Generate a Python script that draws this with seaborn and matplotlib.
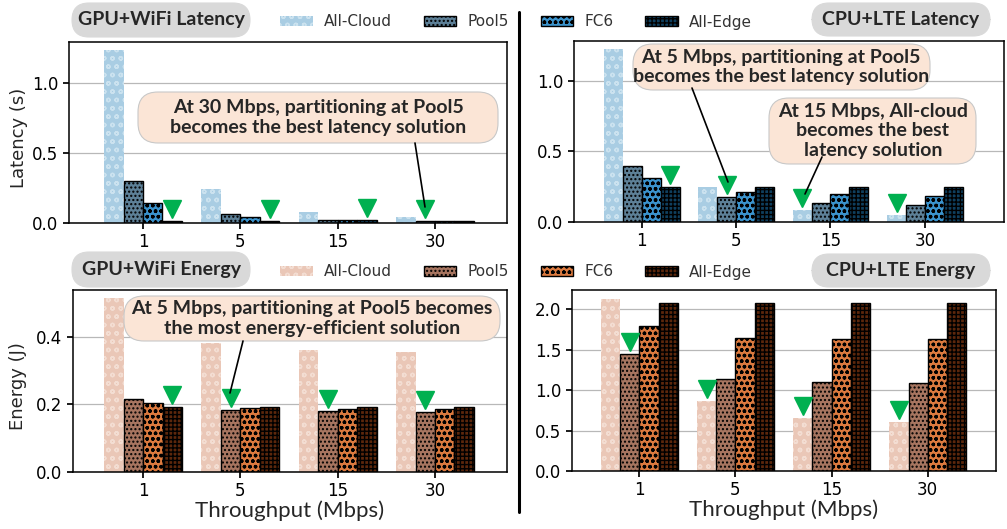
import numpy as np
import pandas as pd
import matplotlib
matplotlib.use('Agg')
import matplotlib.pyplot as plt
from matplotlib.patches import FancyBboxPatch
from matplotlib.lines import Line2D
from matplotlib.transforms import offset_copy
import seaborn as sns

throughputs = ['1', '5', '15', '30']
configs = ['All-Cloud', 'Pool5', 'FC6', 'All-Edge']

# latency (s), GPU + WiFi, values per throughput
gpu_lat_cloud = [1.235, 0.243, 0.076, 0.041]
gpu_lat_pool5 = [0.30, 0.064, 0.024, 0.015]
gpu_lat_fc6 = [0.145, 0.040, 0.022, 0.016]
gpu_lat_edge = [0.017, 0.016, 0.018, 0.017]

# latency (s), CPU + LTE
cpu_lat_cloud = [1.225, 0.25, 0.085, 0.05]
cpu_lat_pool5 = [0.40, 0.175, 0.133, 0.121]
cpu_lat_fc6 = [0.314, 0.215, 0.199, 0.187]
cpu_lat_edge = [0.25, 0.25, 0.25, 0.25]

# energy (J), GPU + WiFi
gpu_en_cloud = [0.515, 0.383, 0.36, 0.356]
gpu_en_pool5 = [0.215, 0.185, 0.18, 0.177]
gpu_en_fc6 = [0.205, 0.19, 0.188, 0.188]
gpu_en_edge = [0.193, 0.193, 0.193, 0.193]

# energy (J), CPU + LTE
cpu_en_cloud = [2.13, 0.868, 0.65, 0.61]
cpu_en_pool5 = [1.444, 1.136, 1.095, 1.083]
cpu_en_fc6 = [1.79, 1.646, 1.633, 1.633]
cpu_en_edge = [2.07, 2.07, 2.07, 2.07]

lat_colors = ['#a9cde3', '#5d8097', '#3b93cc', '#0f3f5e']
en_colors = ['#eac7b7', '#a77560', '#dc7a3f', '#5c270c']
cloud_hatch_color = {'lat': '#cbe2ef', 'en': '#f3ddd2'}
hatches = ['oo', '....', 'ooo', '++++']

W, H = 1007, 529
DPI = 100


def to_df(series):
    rows = []
    for cfg, vals in zip(configs, series):
        for t, v in zip(throughputs, vals):
            rows.append({'throughput': t, 'config': cfg, 'value': v})
    return pd.DataFrame(rows)


def px(x, y):
    # pixel (top-left origin) -> inches for fig.dpi_scale_trans
    return x / DPI, (H - y) / DPI


def draw_panel(fig, rect, series, colors, kind, ylim, yticks, xlim):
    ax = fig.add_axes(rect)
    df = to_df(series)
    sns.barplot(data=df, x='throughput', y='value', hue='config',
                order=throughputs, hue_order=configs, palette=colors,
                saturation=1, legend=False, ax=ax, zorder=2)
    for j, cont in enumerate(ax.containers):
        for bar in cont:
            bar.set_hatch(hatches[j])
            if j == 0:
                bar.set_edgecolor(cloud_hatch_color[kind])
                bar.set_linewidth(0)
            else:
                bar.set_edgecolor('black')
                bar.set_linewidth(1.0)

    # green marker above the best configuration of every throughput
    trans = offset_copy(ax.transData, fig=fig, x=0, y=12, units='dots')
    vals = np.array(series)
    for i in range(len(throughputs)):
        best = int(np.argmin(vals[:, i]))
        bar = ax.containers[best][i]
        ax.plot(bar.get_x() + bar.get_width() / 2, bar.get_height(), 'v',
                color='#00b050', ms=13.5, transform=trans, zorder=4, clip_on=False)

    ax.set_xlim(*xlim)
    ax.set_ylim(*ylim)
    ax.set_yticks(yticks)
    ax.set_xlabel('')
    ax.set_ylabel('')
    ax.yaxis.grid(True, color='#b8b8b8', lw=0.9)
    ax.set_axisbelow(True)
    ax.tick_params(labelsize=12, length=4, colors='black')
    for s in ax.spines.values():
        s.set_visible(True)
        s.set_color('black')
        s.set_linewidth(1.1)
    return ax


def pill(fig, x0, y0, x1, y1, r, face, edge):
    a, b = px(x0, y1)
    p = FancyBboxPatch((a, b), (x1 - x0) / DPI, (y1 - y0) / DPI,
                       boxstyle=f'round,pad=0,rounding_size={r / DPI}',
                       transform=fig.dpi_scale_trans, facecolor=face,
                       edgecolor=edge, lw=0.8, zorder=5)
    fig.add_artist(p)


def label(fig, x, y, s, size, weight='bold'):
    fig.text(*px(x, y), s, transform=fig.dpi_scale_trans, ha='center',
             va='center', fontsize=size, fontweight=weight, family='Lato',
             zorder=6, linespacing=1.15)


def callout(fig, box, center, text, arrow):
    pill(fig, *box, r=20, face='#fbe5d6', edge='#c8c8c8')
    label(fig, *center, text, 14)
    (xa, ya), (xb, yb) = arrow
    fig.add_artist(Line2D([xa / DPI, xb / DPI], [(H - ya) / DPI, (H - yb) / DPI],
                          transform=fig.dpi_scale_trans, color='black', lw=1.2, zorder=7))


def main():
    sns.set_theme(style='ticks')
    plt.rcParams['font.family'] = ['DejaVu Sans']
    plt.rcParams['hatch.linewidth'] = 1.0
    fig = plt.figure(figsize=(W / DPI, H / DPI), dpi=DPI)

    ax_tl = draw_panel(fig, [69 / W, 1 - 223 / H, 438 / W, 181 / H],
                       [gpu_lat_cloud, gpu_lat_pool5, gpu_lat_fc6, gpu_lat_edge],
                       lat_colors, 'lat', (0, 1.293), [0, 0.5, 1.0], (-0.76, 3.74))
    ax_tr = draw_panel(fig, [574 / W, 1 - 222 / H, 430 / W, 181 / H],
                       [cpu_lat_cloud, cpu_lat_pool5, cpu_lat_fc6, cpu_lat_edge],
                       lat_colors, 'lat', (0, 1.283), [0, 0.5, 1.0], (-0.72, 3.84))
    ax_bl = draw_panel(fig, [73 / W, 1 - 472 / H, 434 / W, 182 / H],
                       [gpu_en_cloud, gpu_en_pool5, gpu_en_fc6, gpu_en_edge],
                       en_colors, 'en', (0, 0.539), [0, 0.2, 0.4], (-0.72, 3.74))
    ax_br = draw_panel(fig, [572 / W, 1 - 471 / H, 424 / W, 181 / H],
                       [cpu_en_cloud, cpu_en_pool5, cpu_en_fc6, cpu_en_edge],
                       en_colors, 'en', (0, 2.235), [0, 0.5, 1.0, 1.5, 2.0], (-0.70, 3.71))

    ax_tl.set_ylabel('Latency (s)', fontsize=13)
    ax_tl.yaxis.set_label_coords(-0.094, 0.47)
    ax_bl.set_ylabel('Energy (J)', fontsize=13)
    ax_bl.yaxis.set_label_coords(-0.106, 0.47)
    for ax in (ax_bl, ax_br):
        ax.set_xlabel('Throughput (Mbps)', fontsize=16, family='Lato')
        ax.xaxis.set_label_coords(0.5, -0.155)

    # legends shared by the two panels of each row
    for ax, yc in ((ax_tl, 22), (ax_bl, 272)):
        handles = [cont[0] for cont in ax.containers]
        fig.legend(handles, configs, ncol=4, loc='center left',
                   bbox_to_anchor=(280 / W, 1 - yc / H), frameon=False,
                   fontsize=11, handlelength=2.15, handleheight=0.65,
                   handletextpad=0.7, columnspacing=2.1, borderpad=0,
                   borderaxespad=0, labelcolor='#333333')

    # panel titles
    for x0, y0, x1, y1, s in ((72, 3, 250, 37, 'GPU+WiFi Latency'),
                              (812, 3, 990, 36, 'CPU+LTE Latency'),
                              (72, 252, 250, 287, 'GPU+WiFi Energy'),
                              (812, 254, 990, 287, 'CPU+LTE Energy')):
        pill(fig, x0, y0, x1, y1, r=17, face='#d9d9d9', edge='#d9d9d9')
        label(fig, (x0 + x1) / 2, (y0 + y1) / 2, s, 14)

    callout(fig, (138, 92, 498, 143), (318, 117.5),
            'At 30 Mbps, partitioning at Pool5\nbecomes the best latency solution',
            ((415, 143), (425, 207)))
    callout(fig, (633, 44, 930, 90), (781, 67),
            'At 5 Mbps, partitioning at Pool5\nbecomes the best latency solution',
            ((692, 88), (728, 182)))
    callout(fig, (769, 98, 976, 164), (873, 131),
            'At 15 Mbps, All-cloud\nbecomes the best\nlatency solution',
            ((822, 157), (805, 194)))
    callout(fig, (124, 296, 500, 341), (312, 318.5),
            'At 5 Mbps, partitioning at Pool5 becomes\nthe most energy-efficient solution',
            ((243, 341), (230, 393)))

    # vertical separator between CPU and GPU panels
    fig.add_artist(Line2D([519 / DPI, 519 / DPI], [(H - 12) / DPI, (H - 512) / DPI],
                          transform=fig.dpi_scale_trans, color='black', lw=2.2))

    fig.savefig('out.png', dpi=DPI)


if __name__ == '__main__':
    main()
